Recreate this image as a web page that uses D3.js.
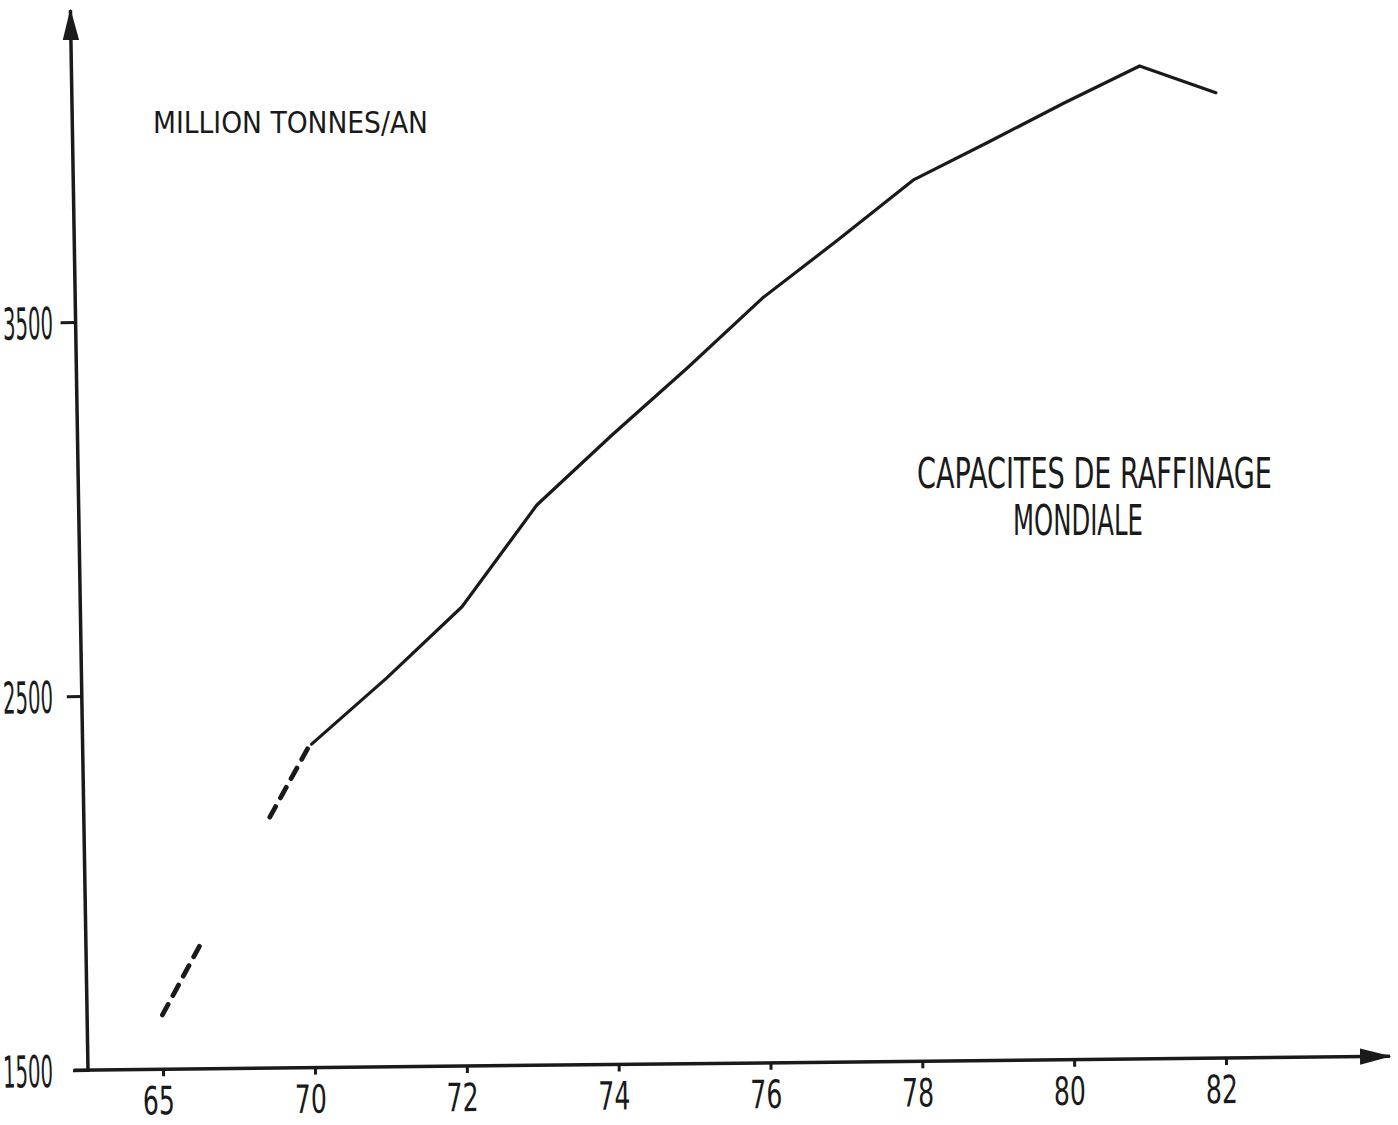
<!DOCTYPE html>
<html>
<head>
<meta charset="utf-8">
<script src="https://cdn.jsdelivr.net/npm/d3@7"></script>
<style>
  html, body { margin: 0; padding: 0; background: #fff; }
  svg { display: block; }
  text { font-family: "Liberation Sans Narrow", "DejaVu Sans Condensed", "Liberation Sans", sans-serif; fill: #1a1a1a; }
</style>
</head>
<body>
<script>
// ---- data ----
const years = [70, 71, 72, 73, 74, 75, 76, 77, 78, 79, 80, 81, 82];
const capacity = [2365, 2540, 2728, 2998, 3183, 3360, 3545, 3698, 3856, 3956, 4058, 4155, 4081];
// dashed (estimated) fragments before 1970
const dashedYears1 = [65, 66.35];
const dashedValues1 = [1645, 1844];
const dashedYears2 = [68.6, 69.95];
const dashedValues2 = [2171, 2365];
const xTicks = [65, 70, 72, 74, 76, 78, 80, 82];
const yTicks = [1500, 2500, 3500];
const unitLabel = "MILLION TONNES/AN";
const titleLines = ["CAPACITES DE RAFFINAGE", "MONDIALE"];

const W = 1398, H = 1125;
const ox = 88, oy = 1070;   // axes origin
const ink = "#1a1a1a";
const tiltX = -0.6, tiltY = -0.35;   // hand-drawn axis tilt (degrees)

const svg = d3.select("body").append("svg").attr("width", W).attr("height", H);

// hand-drawn scale: compressed between 65 and 70
const x = d3.scaleLinear().domain([65, 70, 82]).range([75, 227, 1138]);
const y = d3.scaleLinear().domain([1500, 3500]).range([0, -748]);

const g = svg.append("g").attr("transform", `translate(${ox},${oy}) rotate(${tiltX})`);

// arrow marker
const defs = svg.append("defs");
defs.append("marker").attr("id", "arr").attr("viewBox", "0 0 10 10")
  .attr("refX", 9.5).attr("refY", 5).attr("markerWidth", 9).attr("markerHeight", 9)
  .attr("markerUnits", "strokeWidth").attr("orient", "auto")
  .append("path").attr("d", "M0,2.4 L10,5 L0,7.6 Z").attr("fill", ink);

// x axis line
g.append("line").attr("x1", -14).attr("y1", 0).attr("x2", 1302).attr("y2", 0)
  .attr("stroke", ink).attr("stroke-width", 3.5).attr("marker-end", "url(#arr)");

// y axis (slightly steeper hand-drawn tilt)
const gyWrap = g.append("g").attr("transform", `rotate(${tiltY})`);
gyWrap.append("line").attr("x1", 0).attr("y1", 2).attr("x2", 0).attr("y2", -1060)
  .attr("stroke", ink).attr("stroke-width", 3.5).attr("marker-end", "url(#arr)");

// x axis ticks
const xAxis = d3.axisBottom(x).tickValues(xTicks).tickSize(7).tickPadding(10).tickFormat(d => d);
const gx = g.append("g").call(xAxis);
gx.select(".domain").remove();
gx.selectAll(".tick line").attr("stroke", ink).attr("stroke-width", 3);
gx.selectAll(".tick text").attr("font-size", 39).attr("dy", "0.72em")
  .attr("textLength", 32).attr("lengthAdjust", "spacingAndGlyphs").attr("fill", ink)
  .attr("dx", -5);

// y axis ticks
const totalTilt = (tiltX + tiltY) * Math.PI / 180;
const yAxis = d3.axisLeft(y).tickValues(yTicks).tickSize(15).tickFormat(d => d);
const gy = gyWrap.append("g").call(yAxis);
gy.select(".domain").remove();
gy.selectAll(".tick line").attr("stroke", ink).attr("stroke-width", 3);
// labels start just inside the left edge of the page
gy.selectAll(".tick text").attr("font-size", 44).attr("dy", "0.36em")
  .attr("text-anchor", "start")
  .attr("x", d => 3 - ox + y(d) * Math.sin(totalTilt))
  .attr("textLength", 50).attr("lengthAdjust", "spacingAndGlyphs").attr("fill", ink);

// series
const line = d3.line().x(d => x(d[0])).y(d => y(d[1]));
g.append("path").datum(d3.zip(years, capacity)).attr("d", line)
  .attr("fill", "none").attr("stroke", ink).attr("stroke-width", 3.2)
  .attr("stroke-linejoin", "round").attr("stroke-linecap", "round");

[[dashedYears1, dashedValues1], [dashedYears2, dashedValues2]].forEach(([ys, vs]) => {
  g.append("path").datum(d3.zip(ys, vs)).attr("d", line)
    .attr("fill", "none").attr("stroke", ink).attr("stroke-width", 4.8)
    .attr("stroke-dasharray", "12 10").attr("stroke-linecap", "round");
});

// texts (narrowed by horizontal scale to the typed width)
function typed(str, px, py, size, width) {
  const t = svg.append("text").attr("x", 0).attr("y", 0).attr("font-size", size).text(str);
  const natural = t.node().getComputedTextLength();
  t.attr("transform", `translate(${px},${py}) scale(${width / natural},1)`);
}
typed(unitLabel, 153, 133, 30, 275);
typed(titleLines[0], 917, 488, 42, 355);
typed(titleLines[1], 1013, 535, 42, 130);
</script>
</body>
</html>
